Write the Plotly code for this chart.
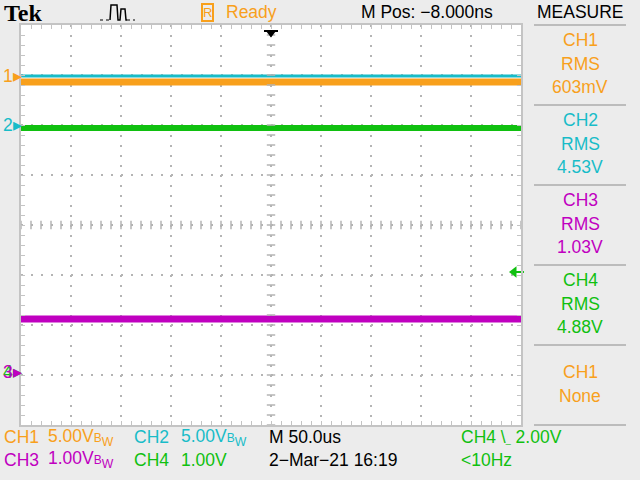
import numpy as np
import plotly.graph_objects as go

# ---------------- data ----------------
time_us = [-250, 250]                      # 50.0 us/div, 10 divisions
channels = ["CH1", "CH2", "CH3", "CH4"]
volts_per_div = [5.0, 5.0, 1.0, 1.0]
ground_div = [2.98, 2.0, -2.94, -2.94]     # ground marker positions (div)
trace_level_v = [-0.60, 4.90, 1.06, 4.88]  # displayed DC level (V)
colors = ["#f8a01c", "#18bcc8", "#c000c0", "#10c010"]
line_widths = [7, 3, 7, 6]
rms_values = ["603mV", "4.53V", "1.03V", "4.88V"]
trigger_level_v = 2.00                     # CH4 falling edge
trigger_pos_us = -0.008

PAPER = "#ececec"
GRID = "#b4b4b4"
EDGE = "#c4c4c4"
FONT = "Liberation Sans, Arial, sans-serif"
FS = 17.5

def px(x):
    return (x - 21) / 500.0

def py(y):
    return (425 - y) / 400.0

fig = go.Figure()

# waveforms (green, magenta first, then orange, cyan on top)
for i in [3, 2, 0, 1]:
    yv = ground_div[i] + trace_level_v[i] / volts_per_div[i]
    fig.add_trace(go.Scatter(x=time_us, y=[yv] * len(time_us), mode="lines",
                             line=dict(color=colors[i], width=line_widths[i]),
                             hoverinfo="skip", showlegend=False))

# centre crosshair tick marks
yt = np.arange(-4, 4.001, 0.2)
fig.add_trace(go.Scatter(x=[0] * len(yt), y=yt, mode="markers",
                         marker=dict(symbol="line-ew", size=6, line=dict(color=GRID, width=1.5)),
                         hoverinfo="skip", showlegend=False))
xt = np.arange(-250, 250.1, 10)
fig.add_trace(go.Scatter(x=xt, y=[0] * len(xt), mode="markers",
                         marker=dict(symbol="line-ns", size=6, line=dict(color=GRID, width=1.5)),
                         hoverinfo="skip", showlegend=False))

# trigger level marker (right), CH4
trig_div = ground_div[3] + trigger_level_v / volts_per_div[3]
fig.add_trace(go.Scatter(x=[243], y=[trig_div], mode="markers",
                         marker=dict(symbol="triangle-left", size=10, color=colors[3]),
                         cliponaxis=False, hoverinfo="skip", showlegend=False))
fig.add_trace(go.Scatter(x=[248], y=[trig_div], mode="markers",
                         marker=dict(symbol="line-ew", size=7, line=dict(color=colors[3], width=2)),
                         cliponaxis=False, hoverinfo="skip", showlegend=False))
# trigger position marker (top)
fig.add_trace(go.Scatter(x=[trigger_pos_us], y=[3.83], mode="markers",
                         marker=dict(symbol="triangle-down", size=8, color="black"),
                         cliponaxis=False, hoverinfo="skip", showlegend=False))
fig.add_trace(go.Scatter(x=[trigger_pos_us], y=[3.88], mode="markers",
                         marker=dict(symbol="line-ew", size=10, line=dict(color="black", width=2)),
                         cliponaxis=False, hoverinfo="skip", showlegend=False))

ann = []
def txt(x, y, s, color="black", size=FS, xanchor="left", family=FONT, **kw):
    d = dict(xref="paper", yref="paper", x=px(x), y=py(y), text=s, showarrow=False,
             xanchor=xanchor, yanchor="middle", font=dict(family=family, size=size, color=color))
    d.update(kw)
    ann.append(d)

# top bar
txt(2, 13, "<b>Tek</b>", size=24, family="Liberation Serif, Times New Roman, serif")
txt(207, 12, "R", color=colors[0], size=13, xanchor="center",
    bordercolor=colors[0], borderwidth=2, borderpad=0)
txt(224, 12, "Ready", color=colors[0])
txt(359, 12, "M Pos: \u22128.000ns")
txt(580, 12, "MEASURE", xanchor="center")

# measure panel
panel_y = [40, 120, 200, 280]
for i in range(4):
    y0 = panel_y[i]
    txt(580, y0, channels[i], color=colors[i], xanchor="center")
    txt(580, y0 + 24, "RMS", color=colors[i], xanchor="center")
    txt(580, y0 + 47, rms_values[i], color=colors[i], xanchor="center")
txt(580, 372, "CH1", color=colors[0], xanchor="center")
txt(580, 396, "None", color=colors[0], xanchor="center")

# bottom status
bw = "<span style='font-size:12px'>B</span><sub>W</sub>"
txt(2, 437, "CH1", color=colors[0])
txt(46, 437, "5.00V" + bw, color=colors[0])
txt(132, 437, "CH2", color=colors[1])
txt(179, 437, "5.00V" + bw, color=colors[1])
txt(267, 437, "M 50.0us")
txt(459, 437, "CH4 \\<span style='font-size:9px'>_</span> 2.00V", color=colors[3])
txt(2, 460, "CH3", color=colors[2])
txt(46, 460, "1.00V" + bw, color=colors[2])
txt(132, 460, "CH4", color=colors[3])
txt(179, 460, "1.00V", color=colors[3])
txt(267, 460, "2\u2212Mar\u221221 16:19")
txt(459, 460, "&lt;10Hz", color=colors[3])

# ground markers: digit + arrow
for i, d in [(3, "4"), (2, "3"), (1, "2"), (0, "1")]:
    ann.append(dict(xref="paper", yref="y", x=px(1), y=ground_div[i],
                    text=d + "<span style='font-size:18px'>\u25b8</span>", showarrow=False,
                    xanchor="left", yanchor="middle",
                    font=dict(family=FONT, size=FS, color=colors[i])))

shapes = []
for yy in [25, 105, 185, 265, 345, 425]:
    shapes.append(dict(type="line", xref="paper", yref="paper", x0=px(534), x1=px(626),
                       y0=py(yy), y1=py(yy), line=dict(color="#bcbcbc", width=2)))
# pulse icon
shapes.append(dict(type="line", xref="paper", yref="paper", x0=px(100), x1=px(110),
                   y0=py(20), y1=py(20), line=dict(color="black", width=1, dash="dot")))
shapes.append(dict(type="path", xref="paper", yref="paper",
                   path="M %f,%f L %f,%f L %f,%f L %f,%f L %f,%f L %f,%f L %f,%f L %f,%f L %f,%f" % (
                       px(110), py(20), px(111), py(5), px(117), py(5), px(118), py(20),
                       px(120), py(20), px(121), py(9), px(125), py(9), px(126), py(20),
                       px(127), py(20)),
                   line=dict(color="black", width=1.5)))
shapes.append(dict(type="line", xref="paper", yref="paper", x0=px(127), x1=px(135),
                   y0=py(20), y1=py(20), line=dict(color="black", width=1, dash="dot")))

axis_common = dict(showgrid=True, gridcolor=GRID, gridwidth=2, griddash="2px,8px",
                   zeroline=False, showticklabels=False, ticks="inside", ticklen=4,
                   tickcolor=EDGE, tickwidth=1, showline=True, linecolor=EDGE, linewidth=2,
                   mirror="allticks", fixedrange=True)

fig.update_layout(
    width=640, height=480,
    margin=dict(l=21, r=119, t=25, b=55),
    paper_bgcolor=PAPER, plot_bgcolor="white",
    showlegend=False,
    xaxis=dict(range=[-250, 250], tick0=0, dtick=50,
               minor=dict(dtick=10, ticks="inside", ticklen=4, tickcolor=EDGE, showgrid=False),
               **axis_common),
    yaxis=dict(range=[-4, 4], tick0=0, dtick=1,
               minor=dict(dtick=0.2, ticks="inside", ticklen=4, tickcolor=EDGE, showgrid=False),
               **axis_common),
    annotations=ann, shapes=shapes,
)

fig.write_html("out.html", config={"displayModeBar": False},
               post_script="document.body.style.margin='0';document.body.style.padding='0';"
                           "document.body.style.overflow='hidden';")
